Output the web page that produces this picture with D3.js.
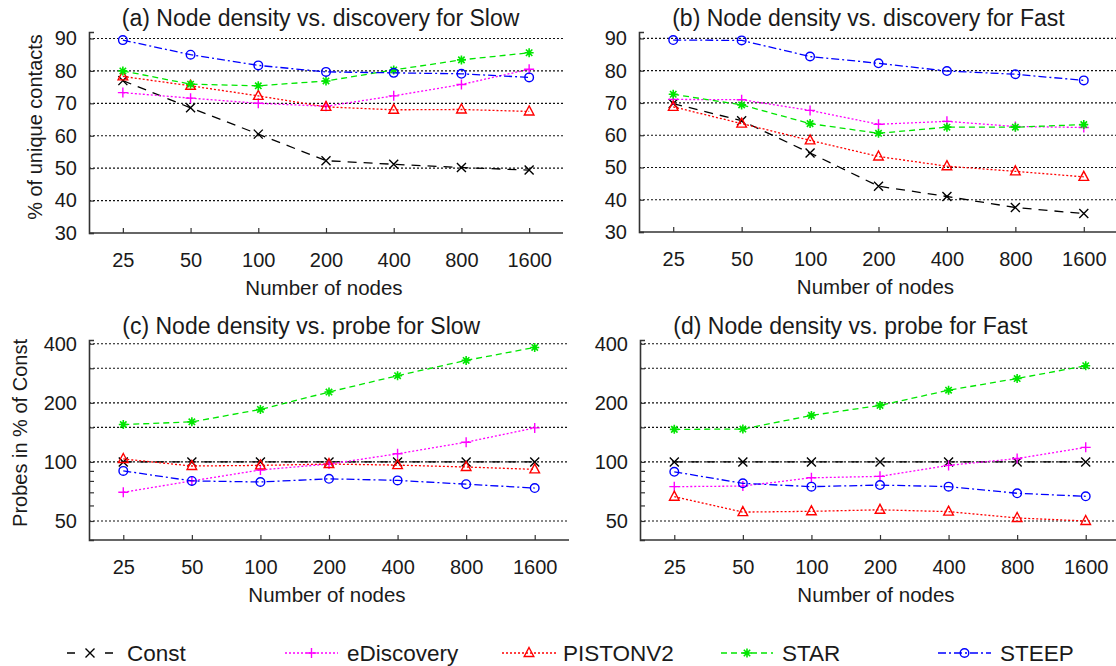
<!DOCTYPE html>
<html><head><meta charset="utf-8">
<script src="https://cdn.jsdelivr.net/npm/d3@7"></script>
<style>
body{margin:0;background:#fff}
svg{display:block}
text{font-family:"Liberation Sans",Arial,Helvetica,sans-serif;fill:#1a1a1a}
</style>
</head><body>
<svg id="chart" width="1116" height="666"></svg>
<script>
// ---------- DATA ----------
const nodeCounts = ["25", "50", "100", "200", "400", "800", "1600"];
const seriesNames = ["Const", "eDiscovery", "PISTONV2", "STAR", "STEEP"];

// (a) discovery, Slow (% of unique contacts)
const aConst      = [77.0, 68.6, 60.5, 52.3, 51.2, 50.2, 49.4];
const aEDiscovery = [73.3, 71.6, 70.0, 69.1, 72.3, 75.8, 80.5];
const aPistonV2   = [78.3, 75.4, 72.3, 68.9, 68.0, 68.1, 67.5];
const aStar       = [80.0, 75.9, 75.4, 76.9, 80.3, 83.4, 85.6];
const aSteep      = [89.5, 85.0, 81.7, 79.7, 79.4, 79.1, 78.0];

// (b) discovery, Fast (% of unique contacts)
const bConst      = [69.8, 64.5, 54.5, 44.2, 41.0, 37.6, 35.7];
const bEDiscovery = [71.1, 71.0, 67.7, 63.4, 64.3, 62.7, 62.4];
const bPistonV2   = [68.8, 63.6, 58.4, 53.4, 50.4, 48.8, 47.1];
const bStar       = [72.7, 69.4, 63.6, 60.6, 62.5, 62.5, 63.3];
const bSteep      = [89.5, 89.4, 84.4, 82.3, 79.9, 78.9, 77.0];

// (c) probes, Slow (% of Const)
const cConst      = [100, 100, 100, 100, 100, 100, 100];
const cEDiscovery = [70, 80, 91, 97.5, 110, 126, 149];
const cPistonV2   = [103.5, 95.3, 96, 97.5, 96.3, 94.2, 91.6];
const cStar       = [155, 160, 185, 227, 275, 329, 383];
const cSteep      = [90, 80, 79, 82, 80.5, 77, 73.6];

// (d) probes, Fast (% of Const)
const dConst      = [100, 100, 100, 100, 100, 100, 100];
const dEDiscovery = [74.8, 75.3, 83, 84.4, 96, 104, 118.6];
const dPistonV2   = [66.5, 55.5, 56, 57, 55.8, 51.8, 50];
const dStar       = [146.5, 147, 172.6, 194, 232, 266, 309];
const dSteep      = [89, 77.8, 74.8, 76.2, 74.8, 69.2, 66.8];

// tick values
const discoveryTicks = [30, 40, 50, 60, 70, 80, 90];
const discoveryGrid  = [40, 50, 60, 70, 80, 90];
const probeTicks     = [50, 100, 200, 400];
const probeGrid      = [50, 100, 150, 200, 300, 400];
const probeMinor     = [60, 70, 80, 90, 150, 300];

// ---------- STYLE / LAYOUT ----------
const styles = {
  Const:      {color: "#000000", dash: "9,7",     marker: "x"},
  eDiscovery: {color: "#ff00ff", dash: "2,2",     marker: "plus"},
  PISTONV2:   {color: "#ff0000", dash: "2,2",     marker: "tri"},
  STAR:       {color: "#00e600", dash: "6,4",     marker: "star"},
  STEEP:      {color: "#0000ff", dash: "8,3,2,3", marker: "circle"}
};

const panels = [
  {title: "(a) Node density vs. discovery for Slow", ylabel: "% of unique contacts", ylabelX: 41.5, ylabelY: 127,
   series: [aConst, aEDiscovery, aPistonV2, aStar, aSteep],
   left: 89, right: 563, top: 32, bottom: 233, log: false, domain: [30, 92], titleY: 26,
   ticks: discoveryTicks, grid: discoveryGrid, minor: []},
  {title: "(b) Node density vs. discovery for Fast", ylabel: null,
   series: [bConst, bEDiscovery, bPistonV2, bStar, bSteep],
   left: 639, right: 1118, top: 32, bottom: 232, log: false, domain: [30, 92], titleY: 26,
   ticks: discoveryTicks, grid: discoveryGrid, minor: []},
  {title: "(c) Node density vs. probe for Slow", ylabel: "Probes in % of Const", ylabelX: 26.5, ylabelY: 433,
   series: [cConst, cEDiscovery, cPistonV2, cStar, cSteep],
   left: 89, right: 569, top: 340, bottom: 540, log: true, domain: [40, 418], titleY: 334,
   ticks: probeTicks, grid: probeGrid, minor: probeMinor},
  {title: "(d) Node density vs. probe for Fast", ylabel: null,
   series: [dConst, dEDiscovery, dPistonV2, dStar, dSteep],
   left: 640, right: 1120, top: 340, bottom: 540, log: true, domain: [40, 418], titleY: 334,
   ticks: probeTicks, grid: probeGrid, minor: probeMinor}
];

const svg = d3.select("#chart");

function drawMarker(g, type, x, y, color) {
  const s = 4.5;
  if (type === "x") {
    g.append("path").attr("d", `M${x-s},${y-s}L${x+s},${y+s}M${x-s},${y+s}L${x+s},${y-s}`)
      .attr("stroke", color).attr("stroke-width", 1.4).attr("fill", "none");
  } else if (type === "plus") {
    g.append("path").attr("d", `M${x-s-0.5},${y}L${x+s+0.5},${y}M${x},${y-s-0.5}L${x},${y+s+0.5}`)
      .attr("stroke", color).attr("stroke-width", 1.4).attr("fill", "none");
  } else if (type === "tri") {
    g.append("path").attr("d", `M${x},${y-5.5}L${x+4.8},${y+3.5}L${x-4.8},${y+3.5}Z`)
      .attr("stroke", color).attr("stroke-width", 1.4).attr("fill", "none");
  } else if (type === "star") {
    const t = 4.5, u = 3.2;
    g.append("path").attr("d", `M${x-t},${y}L${x+t},${y}M${x},${y-t}L${x},${y+t}M${x-u},${y-u}L${x+u},${y+u}M${x-u},${y+u}L${x+u},${y-u}`)
      .attr("stroke", color).attr("stroke-width", 1.6).attr("fill", "none");
    g.append("circle").attr("cx", x).attr("cy", y).attr("r", 2.2).attr("fill", color);
  } else if (type === "circle") {
    g.append("circle").attr("cx", x).attr("cy", y).attr("r", 4.3)
      .attr("stroke", color).attr("stroke-width", 1.4).attr("fill", "none");
  }
}

panels.forEach(p => {
  const g = svg.append("g");
  const x = d3.scalePoint().domain(nodeCounts).range([p.left, p.right]).padding(0.5);
  const y = (p.log ? d3.scaleLog() : d3.scaleLinear()).domain(p.domain).range([p.bottom, p.top]);

  // grid
  g.selectAll(null).data(p.grid).join("line")
    .attr("x1", p.left).attr("x2", p.right)
    .attr("y1", d => y(d)).attr("y2", d => y(d))
    .attr("stroke", "#111").attr("stroke-width", 1.2).attr("stroke-dasharray", "2,2");

  // y axis
  const yAxis = d3.axisLeft(y).tickValues(p.ticks).tickSize(-5).tickPadding(12)
    .tickFormat(d3.format("d"));
  const ya = g.append("g").attr("transform", `translate(${p.left},0)`).call(yAxis);
  ya.select(".domain").attr("stroke", "#333").attr("stroke-width", 1.6);
  ya.selectAll(".tick line").attr("stroke", "#333").attr("stroke-width", 1.2);
  ya.selectAll(".tick text").attr("font-size", 20).attr("fill", "#1a1a1a")
    .style("font-family", '"Liberation Sans",Arial,sans-serif');
  if (p.minor.length) {
    const ym = d3.axisLeft(y).tickValues(p.minor).tickSize(-5).tickFormat("");
    const ymg = g.append("g").attr("transform", `translate(${p.left},0)`).call(ym);
    ymg.select(".domain").remove();
    ymg.selectAll(".tick line").attr("stroke", "#333").attr("stroke-width", 1.2);
  }

  // x axis
  const xAxis = d3.axisBottom(x).tickSize(-5).tickPadding(20).tickSizeOuter(0);
  const xa = g.append("g").attr("transform", `translate(0,${p.bottom})`).call(xAxis);
  xa.select(".domain").attr("stroke", "#333").attr("stroke-width", 1.6)
    .attr("d", `M${p.left},0H${p.right}`);
  xa.selectAll(".tick line").attr("stroke", "#333").attr("stroke-width", 1.2);
  xa.selectAll(".tick text").attr("font-size", 20).attr("fill", "#1a1a1a")
    .style("font-family", '"Liberation Sans",Arial,sans-serif');

  // axis titles
  g.append("text").attr("x", (p.left + Math.min(p.right, 1116)) / 2 - 2).attr("y", p.bottom + 62)
    .attr("text-anchor", "middle").attr("font-size", 20.5).text("Number of nodes");
  g.append("text").attr("x", x(nodeCounts[0]) - 1).attr("y", p.titleY)
    .attr("text-anchor", "start").attr("font-size", 23).text(p.title);
  if (p.ylabel) {
    g.append("text").attr("transform", `translate(${p.ylabelX},${p.ylabelY}) rotate(-90)`)
      .attr("text-anchor", "middle").attr("font-size", 20).text(p.ylabel);
  }

  // series
  p.series.forEach((vals, i) => {
    const st = styles[seriesNames[i]];
    const line = d3.line().x((d, j) => x(nodeCounts[j])).y(d => y(d));
    g.append("path").datum(vals).attr("d", line)
      .attr("fill", "none").attr("stroke", st.color).attr("stroke-width", 1.3)
      .attr("stroke-dasharray", st.dash);
    vals.forEach((v, j) => drawMarker(g, st.marker, x(nodeCounts[j]), y(v), st.color));
  });
});

// legend
const legendLines = [[67, 113], [285, 338], [502, 556], [721, 773], [938, 991]];
const legendText = [127, 347, 563, 782, 1000];
const lg = svg.append("g");
seriesNames.forEach((name, i) => {
  const st = styles[name];
  const [x0, x1] = legendLines[i];
  const ly = 653;
  lg.append("line").attr("x1", x0).attr("x2", x1).attr("y1", ly).attr("y2", ly)
    .attr("stroke", st.color).attr("stroke-width", 1.3).attr("stroke-dasharray", name === "Const" ? "8,30" : st.dash);
  drawMarker(lg, st.marker, (x0 + x1) / 2, ly, st.color);
  lg.append("text").attr("x", legendText[i]).attr("y", ly + 8).attr("font-size", 22.5).text(name);
});
</script>
</body></html>
